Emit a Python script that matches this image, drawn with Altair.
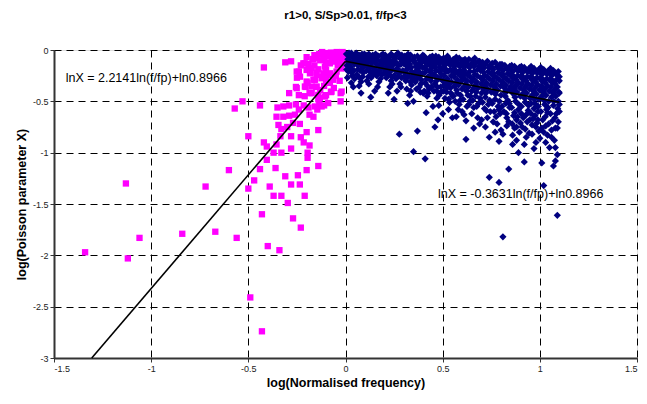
import altair as alt
import pandas as pd

TITLE = "r1>0, S/Sp>0.01, f/fp<3"
X_TITLE = "log(Normalised frequency)"
Y_TITLE = "log(Poisson parameter X)"
X_TICKS = [-1.5, -1, -0.5, 0, 0.5, 1, 1.5]
Y_TICKS = [-3, -2.5, -2, -1.5, -1, -0.5, 0]

# fitted lines: slope, intercept (ln 0.8966), x-range end
LEFT_SLOPE = 2.2141
RIGHT_SLOPE = -0.3631
INTERCEPT = -0.109
RIGHT_END = 1.1
LEFT_LABEL = "lnX = 2.2141ln(f/fp)+ln0.8966"
RIGHT_LABEL = "lnX = -0.3631ln(f/fp)+ln0.8966"

# f/fp < 1 (magenta squares)
LOW = [
    (-1.34, -1.97), (-1.13, -1.30), (-1.12, -2.03), (-1.06, -1.83), (-0.84, -1.79),
    (-0.72, -1.33), (-0.67, -1.77), (-0.56, -1.83), (-0.60, -1.17), (-0.57, -0.57),
    (-0.53, -0.50), (-0.50, -0.84), (-0.49, -2.41), (-0.43, -2.74), (-0.43, -1.60),
    (-0.40, -1.91), (-0.34, -1.95), (-0.297, -1.49), (-0.27, -1.64), (-0.23, -1.73),
    (-0.42, -0.17), (-0.31, -0.12), (-0.28, -0.11), (-0.44, -0.54), (-0.44, -1.16),
    (-0.47, -1.27), (-0.50, -1.35), (-0.39, -1.33), (-0.37, -1.42), (-0.33, -1.42),
    (-0.21, -1.42), (-0.28, -1.31), (-0.235, -1.31), (-0.245, -1.22), (-0.31, -1.23),
    (-0.36, -1.15), (-0.405, -1.07), (-0.20, -1.17), (-0.14, -1.13), (-0.195, -1.05),
    (-0.195, -1.00), (-0.33, -1.00), (-0.37, -1.00), (-0.28, -0.96), (-0.355, -0.92),
    (-0.42, -0.90), (-0.405, -0.94), (-0.185, -0.93), (-0.215, -0.90), (-0.23, -0.85),
    (-0.28, -0.84), (-0.335, -0.84), (-0.20, -0.80), (-0.14, -0.78), (-0.30, -0.75),
    (-0.33, -0.77), (-0.345, -0.73), (-0.355, -0.65), (-0.32, -0.65), (-0.29, -0.64),
    (-0.235, -0.72), (-0.27, -0.71), (-0.26, -0.63), (-0.24, -0.58), (-0.185, -0.63),
    (-0.165, -0.65), (-0.145, -0.58), (-0.19, -0.56), (-0.215, -0.54), (-0.255, -0.53),
    (-0.29, -0.54), (-0.32, -0.55), (-0.35, -0.56), (-0.29, -0.42), (-0.24, -0.44),
    (-0.255, -0.36), (-0.21, -0.45), (-0.185, -0.42), (-0.14, -0.48), (-0.11, -0.54),
    (-0.135, -0.53), (-0.10, -0.44), (-0.075, -0.41), (-0.025, -0.42), (-0.025, -0.50),
    (-0.25, -0.27), (-0.205, -0.36), (-0.195, -0.32), (-0.165, -0.29), (-0.15, -0.36),
    (-0.13, -0.39), (-0.24, -0.21), (-0.23, -0.15), (-0.21, -0.13), (-0.185, -0.19),
    (-0.16, -0.15), (-0.15, -0.22), (-0.17, -0.09), (-0.11, -0.08), (-0.12, -0.26),
    (-0.10, -0.29), (-0.217, -0.13), (-0.19, -0.136), (-0.166, -0.087), (-0.149, -0.081),
    (-0.114, -0.065), (-0.089, -0.058), (-0.063, -0.049), (-0.037, -0.049), (-0.012, -0.049),
    (-0.20, -0.194), (-0.174, -0.178), (-0.14, -0.188), (-0.106, -0.162), (-0.08, -0.13),
    (-0.055, -0.113), (-0.029, -0.097), (-0.251, -0.21), (-0.234, -0.26), (-0.183, -0.227),
    (-0.149, -0.243), (-0.114, -0.227), (-0.08, -0.227), (-0.046, -0.21), (-0.20, -0.307),
    (-0.157, -0.29), (-0.123, -0.275), (-0.089, -0.243), (-0.063, -0.29), (-0.02, -0.405),
    (-0.072, -0.405), (-0.106, -0.453), (-0.14, -0.437), (-0.174, -0.42), (-0.209, -0.356),
    (-0.251, -0.372), (-0.174, -0.356), (-0.149, -0.356), (-0.132, -0.469), (-0.157, -0.55),
    (-0.123, -0.55), (-0.089, -0.517), (-0.03, -0.03), (-0.06, -0.03), (-0.09, -0.04),
    (-0.01, -0.08), (-0.04, -0.15), (-0.02, -0.18), (-0.07, -0.10), (-0.10, -0.12),
    (-0.13, -0.10), (-0.05, -0.25), (-0.03, -0.30), (-0.08, -0.32), (-0.11, -0.35),
    (-0.06, -0.37), (-0.015, -0.02), (-0.045, -0.02), (-0.075, -0.025), (-0.105, -0.03),
    (-0.135, -0.04), (-0.015, -0.13), (-0.035, -0.07), (-0.12, -0.02), (-0.16, -0.05),
    (-0.2, -0.07), (-0.05, -0.09), (-0.1, -0.19),
]

# f/fp > 1 (navy diamonds)
HIGH = [
    (0.005, -0.04), (0.012, -0.09), (0.008, -0.15), (0.015, -0.21), (0.02, -0.06),
    (0.025, -0.12), (0.03, -0.03), (0.028, -0.18), (0.035, -0.25), (0.04, -0.08),
    (0.045, -0.14), (0.042, -0.20), (0.03, -0.32), (0.04, -0.36), (0.01, -0.27),
    (0.018, -0.03), (0.022, -0.16), (0.038, -0.11), (0.048, -0.05), (0.033, -0.22),
    (0.006, -0.19), (0.047, -0.28), (0.015, -0.12),
    (0.055, -0.03), (0.06, -0.09), (0.065, -0.15), (0.07, -0.05), (0.075, -0.20),
    (0.08, -0.11), (0.085, -0.04), (0.09, -0.17), (0.095, -0.08), (0.058, -0.24),
    (0.088, -0.26), (0.08, -0.31), (0.098, -0.13), (0.068, -0.12),
    (0.052, -0.07), (0.063, -0.19), (0.072, -0.27), (0.078, -0.08), (0.083, -0.15),
    (0.092, -0.22), (0.097, -0.04), (0.06, -0.13), (0.07, -0.35),
    (0.105, -0.05), (0.11, -0.10), (0.115, -0.16), (0.12, -0.04), (0.125, -0.21),
    (0.13, -0.08), (0.135, -0.13), (0.14, -0.05), (0.145, -0.18), (0.13, -0.46),
    (0.118, -0.26), (0.14, -0.24), (0.11, -0.30), (0.148, -0.10),
    (0.102, -0.08), (0.108, -0.20), (0.117, -0.12), (0.123, -0.07), (0.128, -0.17),
    (0.132, -0.27), (0.138, -0.10), (0.143, -0.21), (0.15, -0.06), (0.12, -0.33),
    (0.155, -0.04), (0.16, -0.09), (0.165, -0.15), (0.17, -0.06), (0.175, -0.20),
    (0.18, -0.11), (0.185, -0.05), (0.19, -0.16), (0.195, -0.09), (0.16, -0.25),
    (0.18, -0.28), (0.20, -0.22), (0.172, -0.31), (0.19, -0.13),
    (0.152, -0.12), (0.158, -0.20), (0.163, -0.06), (0.168, -0.23), (0.177, -0.14),
    (0.183, -0.18), (0.188, -0.24), (0.193, -0.04), (0.198, -0.18), (0.165, -0.36),
    (0.205, -0.05), (0.21, -0.11), (0.215, -0.17), (0.22, -0.07), (0.225, -0.22),
    (0.23, -0.13), (0.235, -0.04), (0.24, -0.19), (0.245, -0.10), (0.21, -0.27),
    (0.235, -0.30), (0.25, -0.25), (0.228, -0.36), (0.22, -0.42),
    (0.202, -0.08), (0.208, -0.19), (0.212, -0.14), (0.218, -0.24), (0.227, -0.10),
    (0.232, -0.17), (0.238, -0.26), (0.243, -0.06), (0.248, -0.14), (0.24, -0.33),
    (0.255, -0.06), (0.26, -0.12), (0.265, -0.18), (0.27, -0.03), (0.275, -0.23),
    (0.28, -0.08), (0.285, -0.14), (0.29, -0.05), (0.295, -0.20), (0.26, -0.28),
    (0.28, -0.33), (0.30, -0.26), (0.277, -0.82), (0.29, -0.11), (0.265, -0.40),
    (0.252, -0.09), (0.258, -0.20), (0.262, -0.05), (0.268, -0.26), (0.272, -0.15),
    (0.282, -0.21), (0.288, -0.27), (0.292, -0.08), (0.298, -0.13), (0.285, -0.36),
    (0.305, -0.06), (0.31, -0.12), (0.315, -0.19), (0.32, -0.08), (0.325, -0.25),
    (0.33, -0.14), (0.335, -0.05), (0.34, -0.21), (0.345, -0.10), (0.31, -0.30),
    (0.33, -0.44), (0.32, -0.52), (0.34, -0.34), (0.35, -0.99), (0.325, -0.17),
    (0.348, -0.28),
    (0.302, -0.10), (0.308, -0.22), (0.312, -0.15), (0.318, -0.27), (0.322, -0.04),
    (0.328, -0.10), (0.333, -0.31), (0.338, -0.17), (0.343, -0.26), (0.315, -0.38),
    (0.335, -0.40),
    (0.355, -0.07), (0.36, -0.13), (0.365, -0.20), (0.37, -0.06), (0.375, -0.26),
    (0.38, -0.10), (0.385, -0.16), (0.39, -0.08), (0.395, -0.23), (0.36, -0.31),
    (0.37, -0.79), (0.38, -0.36), (0.39, -0.29), (0.40, -0.42), (0.372, -0.18),
    (0.352, -0.10), (0.358, -0.23), (0.362, -0.16), (0.368, -0.28), (0.378, -0.14),
    (0.382, -0.22), (0.388, -0.33), (0.392, -0.12), (0.398, -0.05), (0.365, -0.38),
    (0.385, -0.41), (0.396, -0.17),
    (0.405, -0.06), (0.41, -0.12), (0.415, -0.19), (0.42, -0.09), (0.425, -0.26),
    (0.43, -0.14), (0.435, -0.07), (0.44, -0.22), (0.445, -0.11), (0.41, -0.32),
    (0.415, -0.61), (0.41, -1.06), (0.43, -0.38), (0.44, -0.30), (0.42, -0.45),
    (0.445, -0.17),
    (0.402, -0.09), (0.408, -0.22), (0.412, -0.16), (0.418, -0.28), (0.422, -0.35),
    (0.428, -0.11), (0.433, -0.20), (0.438, -0.27), (0.442, -0.36), (0.447, -0.06),
    (0.405, -0.40), (0.425, -0.42), (0.448, -0.24),
    (0.455, -0.08), (0.46, -0.14), (0.465, -0.20), (0.47, -0.10), (0.475, -0.27),
    (0.48, -0.07), (0.485, -0.17), (0.49, -0.12), (0.495, -0.24), (0.46, -0.33),
    (0.476, -0.68), (0.46, -0.75), (0.48, -0.54), (0.47, -0.40), (0.49, -0.36),
    (0.50, -0.30), (0.482, -0.44),
    (0.452, -0.11), (0.458, -0.24), (0.462, -0.17), (0.468, -0.30), (0.472, -0.36),
    (0.478, -0.13), (0.483, -0.21), (0.488, -0.28), (0.492, -0.41), (0.497, -0.09),
    (0.455, -0.40), (0.47, -0.47), (0.498, -0.18), (0.465, -0.06),
    (0.505, -0.08), (0.51, -0.15), (0.515, -0.21), (0.52, -0.10), (0.525, -0.28),
    (0.53, -0.13), (0.535, -0.09), (0.54, -0.19), (0.545, -0.25), (0.51, -0.34),
    (0.52, -0.41), (0.54, -0.37), (0.55, -0.45), (0.53, -0.48), (0.545, -0.31),
    (0.512, -0.47),
    (0.502, -0.12), (0.508, -0.25), (0.512, -0.18), (0.518, -0.30), (0.522, -0.37),
    (0.528, -0.21), (0.532, -0.33), (0.538, -0.14), (0.542, -0.42), (0.548, -0.11),
    (0.505, -0.40), (0.535, -0.51), (0.55, -0.20), (0.525, -0.06),
    (0.555, -0.09), (0.56, -0.16), (0.565, -0.22), (0.57, -0.11), (0.575, -0.29),
    (0.58, -0.14), (0.585, -0.08), (0.59, -0.20), (0.595, -0.26), (0.56, -0.35),
    (0.58, -0.58), (0.575, -0.42), (0.59, -0.49), (0.60, -0.38), (0.565, -0.50),
    (0.598, -0.12),
    (0.552, -0.13), (0.558, -0.26), (0.562, -0.19), (0.568, -0.32), (0.572, -0.39),
    (0.578, -0.23), (0.582, -0.34), (0.588, -0.16), (0.592, -0.44), (0.597, -0.30),
    (0.555, -0.45), (0.585, -0.53), (0.60, -0.22), (0.57, -0.07),
    (0.605, -0.10), (0.61, -0.17), (0.615, -0.23), (0.62, -0.12), (0.625, -0.30),
    (0.63, -0.15), (0.635, -0.09), (0.64, -0.21), (0.645, -0.27), (0.61, -0.36),
    (0.62, -0.69), (0.62, -0.87), (0.61, -0.63), (0.63, -0.44), (0.64, -0.50),
    (0.65, -0.40), (0.625, -0.55),
    (0.602, -0.14), (0.608, -0.27), (0.612, -0.20), (0.618, -0.33), (0.622, -0.40),
    (0.628, -0.24), (0.632, -0.36), (0.638, -0.17), (0.642, -0.45), (0.648, -0.31),
    (0.605, -0.48), (0.635, -0.53), (0.65, -0.13), (0.615, -0.09),
    (0.655, -0.10), (0.66, -0.16), (0.665, -0.24), (0.67, -0.13), (0.675, -0.31),
    (0.68, -0.19), (0.685, -0.11), (0.69, -0.11), (0.695, -0.27), (0.66, -0.37),
    (0.68, -0.66), (0.69, -0.72), (0.67, -0.45), (0.685, -0.52), (0.70, -0.42),
    (0.66, -0.56), (0.695, -0.20),
    (0.652, -0.14), (0.658, -0.28), (0.662, -0.21), (0.668, -0.34), (0.672, -0.41),
    (0.678, -0.25), (0.682, -0.37), (0.688, -0.16), (0.692, -0.47), (0.698, -0.33),
    (0.655, -0.49), (0.675, -0.55), (0.70, -0.15), (0.665, -0.08),
    (0.705, -0.12), (0.71, -0.18), (0.715, -0.25), (0.72, -0.14), (0.725, -0.32),
    (0.73, -0.11), (0.735, -0.21), (0.74, -0.28), (0.745, -0.15), (0.71, -0.38),
    (0.74, -0.85), (0.74, -1.24), (0.72, -0.46), (0.735, -0.53), (0.745, -0.60),
    (0.715, -0.57), (0.75, -0.41),
    (0.702, -0.16), (0.708, -0.29), (0.712, -0.22), (0.718, -0.35), (0.722, -0.42),
    (0.728, -0.26), (0.732, -0.38), (0.738, -0.17), (0.742, -0.49), (0.748, -0.34),
    (0.705, -0.51), (0.725, -0.59), (0.75, -0.23), (0.73, -0.66),
    (0.755, -0.13), (0.76, -0.19), (0.765, -0.26), (0.77, -0.12), (0.775, -0.33),
    (0.78, -0.16), (0.785, -0.22), (0.79, -0.29), (0.795, -0.14), (0.76, -0.40),
    (0.78, -0.72), (0.79, -0.89), (0.79, -1.29), (0.77, -0.48), (0.785, -0.55),
    (0.795, -0.62), (0.765, -0.60), (0.80, -0.44),
    (0.752, -0.17), (0.758, -0.30), (0.762, -0.23), (0.768, -0.36), (0.772, -0.43),
    (0.778, -0.27), (0.782, -0.39), (0.788, -0.18), (0.792, -0.50), (0.798, -0.35),
    (0.755, -0.52), (0.775, -0.65), (0.80, -0.24), (0.79, -0.58),
    (0.805, -0.14), (0.81, -0.20), (0.815, -0.27), (0.82, -0.15), (0.825, -0.34),
    (0.83, -0.18), (0.835, -0.23), (0.84, -0.30), (0.845, -0.16), (0.81, -0.82),
    (0.81, -1.82), (0.83, -0.66), (0.84, -1.16), (0.82, -0.41), (0.835, -0.49),
    (0.845, -0.56), (0.815, -0.60), (0.85, -0.38), (0.825, -0.52),
    (0.802, -0.18), (0.808, -0.31), (0.812, -0.24), (0.818, -0.37), (0.822, -0.45),
    (0.828, -0.28), (0.832, -0.40), (0.838, -0.19), (0.842, -0.52), (0.848, -0.36),
    (0.805, -0.55), (0.828, -0.62), (0.85, -0.25), (0.84, -0.70),
    (0.855, -0.15), (0.86, -0.21), (0.865, -0.28), (0.87, -0.16), (0.875, -0.35),
    (0.88, -0.19), (0.885, -0.25), (0.89, -0.32), (0.895, -0.17), (0.86, -0.92),
    (0.87, -0.76), (0.88, -0.75), (0.89, -1.00), (0.86, -0.42), (0.875, -0.50),
    (0.89, -0.58), (0.865, -0.64), (0.90, -0.45), (0.88, -0.68), (0.895, -0.80),
    (0.852, -0.19), (0.858, -0.32), (0.862, -0.25), (0.868, -0.38), (0.872, -0.46),
    (0.878, -0.29), (0.882, -0.41), (0.888, -0.20), (0.892, -0.53), (0.898, -0.37),
    (0.855, -0.56), (0.87, -0.61), (0.90, -0.26), (0.885, -0.65), (0.858, -0.72),
    (0.905, -0.16), (0.91, -0.22), (0.915, -0.29), (0.92, -0.17), (0.925, -0.36),
    (0.93, -0.20), (0.935, -0.26), (0.94, -0.33), (0.945, -0.18), (0.91, -0.75),
    (0.92, -0.92), (0.92, -1.09), (0.91, -0.43), (0.925, -0.51), (0.94, -0.59),
    (0.915, -0.66), (0.95, -0.47), (0.935, -0.70), (0.945, -0.81), (0.905, -0.55),
    (0.902, -0.20), (0.908, -0.33), (0.912, -0.26), (0.918, -0.39), (0.922, -0.47),
    (0.928, -0.30), (0.932, -0.42), (0.938, -0.21), (0.942, -0.54), (0.948, -0.38),
    (0.905, -0.62), (0.93, -0.63), (0.95, -0.27), (0.925, -0.77), (0.948, -0.68),
    (0.955, -0.16), (0.96, -0.23), (0.965, -0.30), (0.97, -0.18), (0.975, -0.37),
    (0.98, -0.21), (0.985, -0.27), (0.99, -0.34), (0.995, -0.19), (0.96, -0.44),
    (0.975, -0.52), (0.99, -0.60), (0.965, -0.67), (0.98, -0.75), (0.995, -0.48),
    (0.97, -0.57), (0.985, -0.71), (0.955, -0.62),
    (0.952, -0.20), (0.958, -0.34), (0.962, -0.27), (0.968, -0.40), (0.972, -0.48),
    (0.978, -0.31), (0.982, -0.43), (0.988, -0.22), (0.992, -0.55), (0.998, -0.39),
    (0.955, -0.52), (0.975, -0.64), (1.00, -0.28), (0.99, -0.68), (0.96, -0.73),
    (0.995, -0.79),
    (1.005, -0.17), (1.01, -0.24), (1.015, -0.31), (1.02, -0.19), (1.025, -0.38),
    (1.03, -0.22), (1.035, -0.28), (1.04, -0.35), (1.045, -0.20), (1.01, -0.45),
    (1.025, -0.53), (1.04, -0.61), (1.015, -0.68), (1.03, -0.74), (1.045, -0.50),
    (1.01, -1.10), (1.02, -1.32), (1.04, -0.83), (1.05, -0.95), (1.035, -0.58),
    (1.02, -0.80),
    (1.002, -0.21), (1.008, -0.35), (1.012, -0.28), (1.018, -0.41), (1.022, -0.49),
    (1.028, -0.32), (1.032, -0.44), (1.038, -0.23), (1.042, -0.56), (1.048, -0.40),
    (1.005, -0.60), (1.028, -0.65), (1.05, -0.29), (1.045, -0.72), (1.01, -0.76),
    (1.055, -0.18), (1.06, -0.25), (1.065, -0.32), (1.07, -0.20), (1.075, -0.39),
    (1.08, -0.23), (1.085, -0.29), (1.09, -0.36), (1.095, -0.21), (1.06, -0.46),
    (1.07, -0.54), (1.085, -0.62), (1.065, -0.69), (1.08, -0.76), (1.095, -0.50),
    (1.07, -1.13), (1.08, -1.08), (1.09, -1.61), (1.09, -0.76), (1.10, -0.42),
    (1.10, -0.60), (1.10, -0.30), (1.075, -0.88),
    (1.052, -0.22), (1.058, -0.36), (1.062, -0.29), (1.068, -0.42), (1.072, -0.50),
    (1.078, -0.33), (1.082, -0.45), (1.088, -0.24), (1.092, -0.57), (1.098, -0.41),
    (1.055, -0.62), (1.078, -0.66), (1.10, -0.26), (1.095, -0.70), (1.06, -0.78),
    (1.10, -0.53),
    # scattered points below the dense band
    (0.45, -0.55), (0.50, -0.62), (0.53, -0.58), (0.57, -0.65), (0.60, -0.60),
    (0.65, -0.62), (0.70, -0.68), (0.72, -0.75), (0.76, -0.70), (0.80, -0.78),
    (0.83, -0.74), (0.86, -0.83), (0.90, -0.71), (0.93, -0.85), (0.96, -0.82),
    (0.98, -0.90), (1.00, -0.86), (1.03, -0.90), (1.06, -0.85), (1.08, -0.95),
    (1.09, -1.02), (0.97, -0.96), (0.88, -0.88), (0.77, -0.80), (0.66, -0.76),
    (0.55, -0.66), (0.35, -0.50), (0.25, -0.48), (0.15, -0.40), (0.08, -0.42),
]

low_df = pd.DataFrame(LOW, columns=["x", "y"])
high_df = pd.DataFrame(HIGH, columns=["x", "y"])

left_start = (-3 - INTERCEPT) / LEFT_SLOPE
lines_df = pd.DataFrame({
    "x": [left_start, 0.0, 0.0, RIGHT_END],
    "y": [-3.0, INTERCEPT, INTERCEPT, INTERCEPT + RIGHT_SLOPE * RIGHT_END],
    "seg": ["left", "left", "right", "right"],
})
labels_df = pd.DataFrame({
    "x": [-1.44, 0.476],
    "y": [-0.27, -1.40],
    "text": [LEFT_LABEL, RIGHT_LABEL],
})

FONT = "Liberation Sans"

xscale = alt.Scale(domain=[-1.5, 1.5], nice=False, zero=False)
yscale = alt.Scale(domain=[-3, 0], nice=False, zero=False)

xaxis = alt.Axis(values=X_TICKS, title=X_TITLE, labelExpr="toString(datum.value)",
                 grid=True, gridColor="#000000", gridDash=[7, 5], gridWidth=1,
                 domainColor="#333333", domainWidth=2, tickColor="#333333", tickSize=4,
                 labelFontSize=9, labelFont=FONT, labelColor="#222222", labelPadding=2,
                 titleFont=FONT, titleFontSize=12.5, titleFontWeight="bold",
                 titleColor="#000000", titlePadding=3)
yaxis = alt.Axis(values=Y_TICKS, title=Y_TITLE, labelExpr="toString(datum.value)",
                 grid=True, gridColor="#000000", gridDash=[7, 5], gridWidth=1,
                 domainColor="#333333", domainWidth=2, tickColor="#333333", tickSize=4,
                 labelFontSize=9, labelFont=FONT, labelColor="#222222", labelPadding=2,
                 titleFont=FONT, titleFontSize=12.5, titleFontWeight="bold",
                 titleColor="#000000", titlePadding=4)

low = alt.Chart(low_df).mark_point(shape="square", filled=True, size=40,
                                   color="#FF00FF", opacity=1).encode(
    x=alt.X("x:Q", scale=xscale, axis=xaxis),
    y=alt.Y("y:Q", scale=yscale, axis=yaxis),
)
high = alt.Chart(high_df).mark_point(shape="diamond", filled=True, size=52,
                                     color="#000080", opacity=1).encode(
    x=alt.X("x:Q", scale=xscale),
    y=alt.Y("y:Q", scale=yscale),
)
lines = alt.Chart(lines_df).mark_line(color="#000000", strokeWidth=1.6).encode(
    x=alt.X("x:Q", scale=xscale),
    y=alt.Y("y:Q", scale=yscale),
    detail="seg:N",
)
labels = alt.Chart(labels_df).mark_text(align="left", baseline="middle", font=FONT,
                                         fontSize=12.5, color="#000000").encode(
    x=alt.X("x:Q", scale=xscale),
    y=alt.Y("y:Q", scale=yscale),
    text="text:N",
)

chart = alt.layer(low, high, lines, labels).properties(
    width=583, height=308,
    title=alt.TitleParams(TITLE, font=FONT, fontSize=11.5, fontWeight="bold",
                          anchor="middle", offset=25, color="#000000"),
    autosize=alt.AutoSizeParams(type="none"),
    padding={"left": 46, "top": 42, "right": 2, "bottom": 32},
).configure_view(stroke="#999999", strokeWidth=2).configure(background="#ffffff")

chart.save("out.html", embed_options={"renderer": "svg", "actions": False})
